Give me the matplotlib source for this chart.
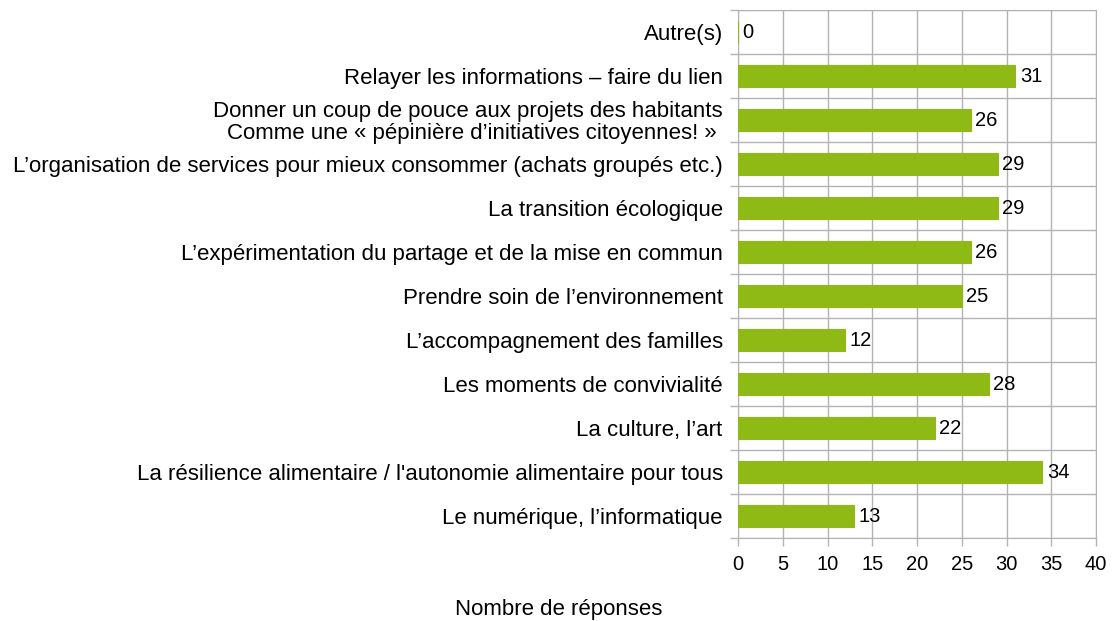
import numpy as np
import matplotlib.pyplot as plt

plt.rcParams['font.family'] = ['Liberation Sans', 'DejaVu Sans']

categories = [
    "Le numérique, l’informatique",
    "La résilience alimentaire / l'autonomie alimentaire pour tous",
    "La culture, l’art",
    "Les moments de convivialité",
    "L’accompagnement des familles",
    "Prendre soin de l’environnement",
    "L’expérimentation du partage et de la mise en commun",
    "La transition écologique",
    "L’organisation de services pour mieux consommer (achats groupés etc.)",
    "Donner un coup de pouce aux projets des habitants\nComme une « pépinière d’initiatives citoyennes! » ",
    "Relayer les informations – faire du lien",
    "Autre(s)",
]
values = [13, 34, 22, 28, 12, 25, 26, 29, 29, 26, 31, 0]

green = '#8fb915'
grid = '#b3b3b3'
fs = 14.5
fs_cat = 16

fig = plt.figure(figsize=(11.12, 6.21), dpi=100)
ax = fig.add_axes([738/1112, 1 - 538/621, (1096 - 738)/1112, (538 - 10)/621])

y = np.arange(len(categories))
bars = ax.barh(y, values, height=0.52, color=green, edgecolor=green, linewidth=0.8, zorder=3)
for yi, v in zip(y, values):
    ax.text(v + 0.5, yi, str(v), va='center', ha='left', fontsize=fs, color='black', zorder=4)

ax.set_xlim(0, 40)
ax.set_ylim(-0.5, len(categories) - 0.5)
ax.set_xticks(np.arange(0, 41, 5))
ax.set_yticks(y)
ax.set_yticklabels(categories, fontsize=fs_cat, ha='right', multialignment='right', linespacing=1.05)
ax.set_yticks(np.arange(-0.5, len(categories), 1), minor=True)
ax.tick_params(axis='y', which='major', length=0, pad=11)
ax.tick_params(axis='y', which='minor', length=6, color=grid, width=1)
ax.tick_params(axis='x', length=6, color=grid, width=1, labelsize=fs, pad=6)
ax.grid(axis='x', color=grid, linewidth=1, zorder=0)
ax.grid(axis='y', which='minor', color=grid, linewidth=1, zorder=0)
for s in ax.spines.values():
    s.set_color(grid)

fig.text(559/1112, 1 - 609/621, 'Nombre de réponses', ha='center', va='center', fontsize=fs_cat)

fig.savefig('out.png', dpi=100)
